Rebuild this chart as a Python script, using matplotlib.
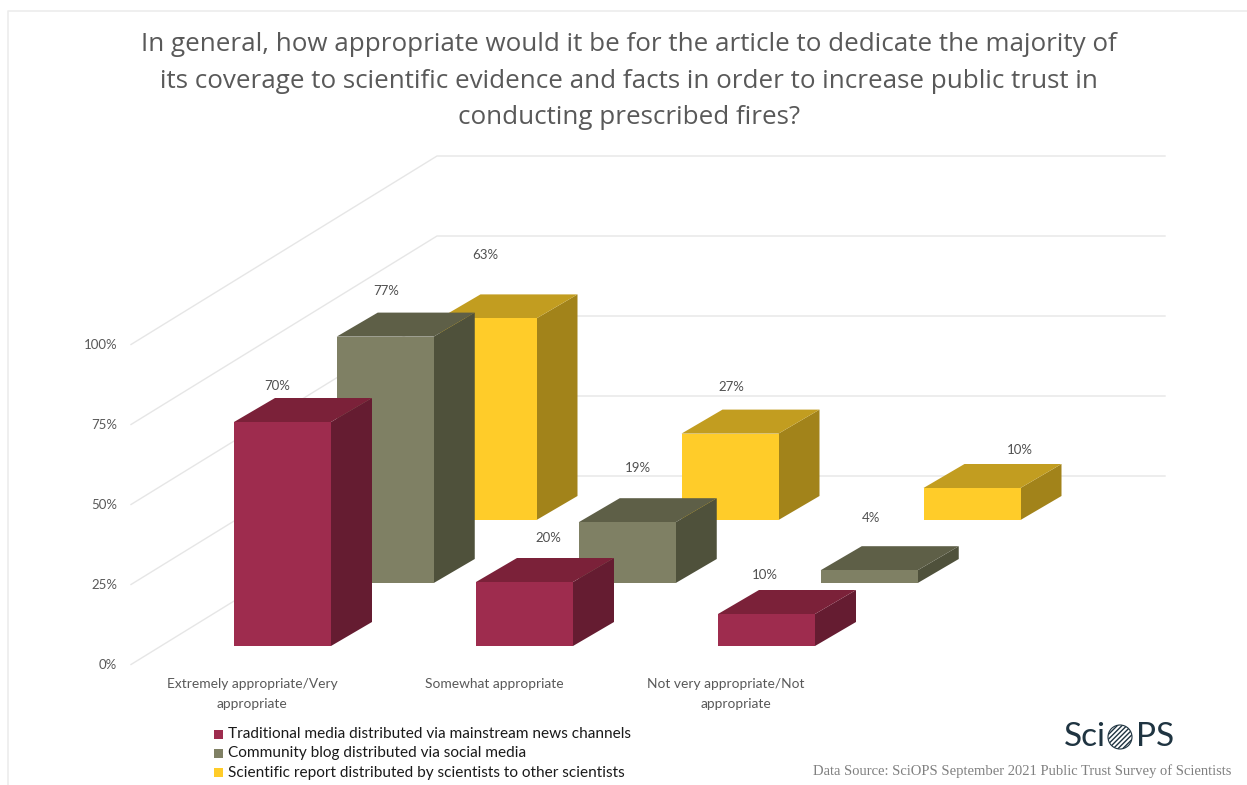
import matplotlib
matplotlib.use("Agg")
import matplotlib.pyplot as plt
from matplotlib.patches import Circle, Polygon, Rectangle

# Survey results, percent of respondents
category_lines = [["Extremely appropriate/Very", "appropriate"], ["Somewhat appropriate"], ["Not very appropriate/Not", "appropriate"]]
series_names = [
    "Traditional media distributed via mainstream news channels",
    "Community blog distributed via social media",
    "Scientific report distributed by scientists to other scientists",
]
traditional = [70, 20, 10]
community = [77, 19, 4]
scientific = [63, 27, 10]
value_ticks = [0, 25, 50, 75, 100]

title = ("In general, how appropriate would it be for the article to dedicate the majority of\n"
         "its coverage to scientific evidence and facts in order to increase public trust in\n"
         "conducting prescribed fires?")
source = "Data Source: SciOPS September 2021 Public Trust Survey of Scientists"

# Fake-3D layout, everything in pixels with y going down
PX_PER_PCT = 3.2
BAR_W = 97
DEPTH_X, DEPTH_Y = 41, -24
BASE_X, BASE_Y = 234, 646
CAT_STEP = 242
SERIES_DX, SERIES_DY = 102.75, -63
FLOOR_LEFT = (131, 664.5)
FLOOR_BACK = (437, 476)
WALL_RIGHT = 1165

# face, top, side colours per series
colors = [
    ("#9e2c4e", "#7b2139", "#651c31"),
    ("#7f8064", "#5e5f47", "#4f513b"),
    ("#ffcc29", "#c29d20", "#a2831a"),
]
# value label offset from the centre of the bar's top front edge
label_offsets = [
    [(-5, -36), (24, -44), (-2, -39)],
    [(1, -46), (11, -54), (2, -52)],
    [(-3, -63), (1, -47), (48, -38)],
]
# centre x of each wrapped category label line
line_centers = [[252, 252], [494], [725.5, 736]]

plt.rcParams["font.family"] = "Lato"
plt.rcParams["hatch.linewidth"] = 1.0
fig = plt.figure(figsize=(12.47, 7.85), dpi=100)
ax = fig.add_axes([0, 0, 1, 1])
ax.set_xlim(0, 1247)
ax.set_ylim(785, 0)
ax.axis("off")


def draw_bar(ax, x, y, value, cols):
    h = value * PX_PER_PCT
    top = y - h
    face, top_c, side = cols
    ax.add_patch(Polygon([(x + BAR_W, y), (x + BAR_W + DEPTH_X, y + DEPTH_Y),
                          (x + BAR_W + DEPTH_X, top + DEPTH_Y), (x + BAR_W, top)],
                         facecolor=side, edgecolor="none", zorder=3))
    ax.add_patch(Polygon([(x, top), (x + DEPTH_X, top + DEPTH_Y),
                          (x + BAR_W + DEPTH_X, top + DEPTH_Y), (x + BAR_W, top)],
                         facecolor=top_c, edgecolor="none", zorder=3))
    ax.add_patch(Rectangle((x, top), BAR_W, h, facecolor=face, edgecolor="none", zorder=3))


# slide frame, left and top edges
ax.plot([8, 8, 1247], [785, 11, 11], color="#ececec", lw=1.2, zorder=1)

# gridlines: up the side wall, then along the back wall
for v in value_ticks:
    h = v * PX_PER_PCT
    ax.plot([FLOOR_LEFT[0], FLOOR_BACK[0], WALL_RIGHT],
            [FLOOR_LEFT[1] - h, FLOOR_BACK[1] - h, FLOOR_BACK[1] - h],
            color="#e6e6e6", lw=1, zorder=1)
    ax.text(117, FLOOR_LEFT[1] + 0.5 - h, f"{v}%", ha="right", va="center", fontsize=9.5, color="#595959")

# back series first so the nearer bars cover them
all_series = [traditional, community, scientific]
for s in [2, 1, 0]:
    for c, value in enumerate(all_series[s]):
        x = BASE_X + c * CAT_STEP + s * SERIES_DX
        y = BASE_Y + s * SERIES_DY
        draw_bar(ax, x, y, value, colors[s])
        dx, dy = label_offsets[s][c]
        ax.text(x + BAR_W / 2 + dx, y - value * PX_PER_PCT + dy, f"{value}%",
                ha="center", va="center", fontsize=9.5, color="#505050", zorder=5)

for lines, centers in zip(category_lines, line_centers):
    for i, (line, cx) in enumerate(zip(lines, centers)):
        ax.text(cx, 684.5 + i * 19, line, ha="center", va="center", fontsize=9.9, color="#595959")

ax.text(629, 81, title, ha="center", va="center", fontsize=18.7, color="#595959",
        family="Open Sans", linespacing=1.58)

# legend
for i, name in enumerate(series_names):
    y = 734 + i * 19.3
    ax.add_patch(Rectangle((214, y - 4.5), 9, 9, facecolor=colors[i][0], edgecolor="none"))
    ax.text(228, y, name, ha="left", va="center", fontsize=11.05, color="#1a1a1a")

# logo
logo_c = "#1f3441"
ax.text(1106, 737, "Sci", ha="right", va="center", fontsize=24, color=logo_c)
ax.text(1136, 737, "PS", ha="left", va="center", fontsize=24, color=logo_c)
ax.add_patch(Circle((1120, 737), 12, facecolor="white", edgecolor=logo_c, lw=0.8, hatch="///////"))

ax.text(1231, 771, source, ha="right", va="center", fontsize=10.55, color="#808080",
        family="Liberation Serif")

fig.savefig("out.png", dpi=100)
